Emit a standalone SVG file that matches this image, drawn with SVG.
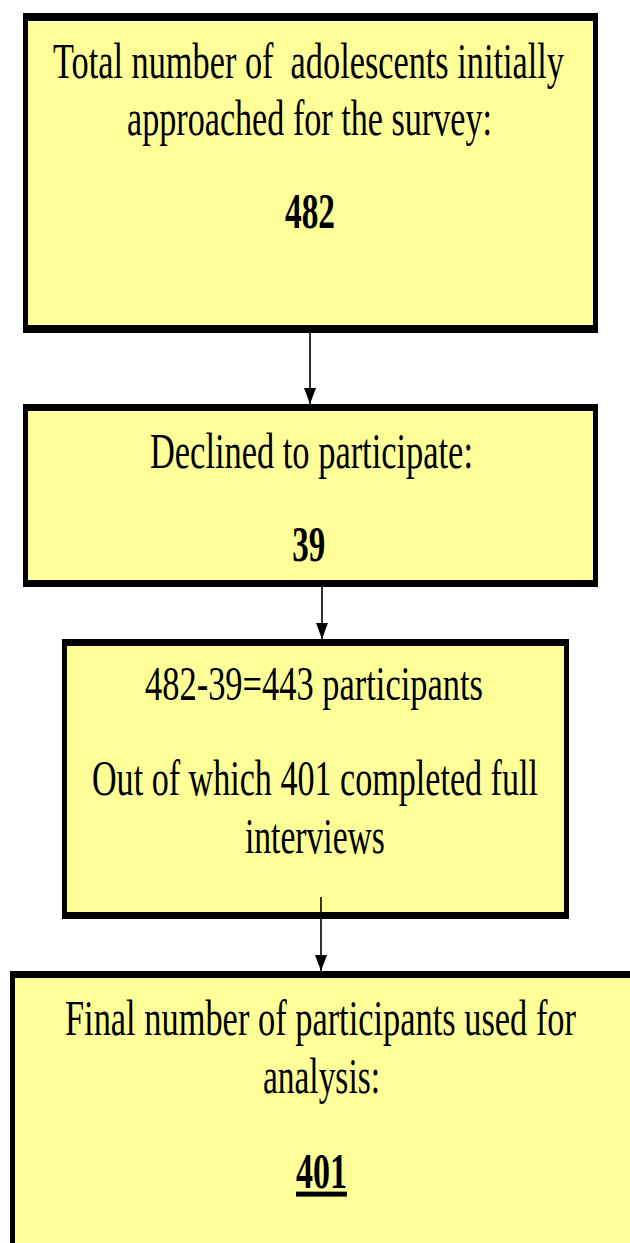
<svg xmlns="http://www.w3.org/2000/svg" width="630" height="1243" viewBox="0 0 630 1243">
<defs>
<style>
.frame{fill:#000}
.fill{fill:#FFFF99}
.t{font-family:"Liberation Serif","Times New Roman",serif;font-size:50px;fill:#000}
.s{font-size:48px}
.b{font-weight:bold}
.conn{stroke:#000;stroke-width:1.6;fill:none}
</style>
<marker id="ah" viewBox="0 0 16 12" refX="16" refY="6" markerWidth="16" markerHeight="12" markerUnits="userSpaceOnUse" orient="auto">
<path d="M0,0 L16,6 L0,12 z" fill="#000"/>
</marker>
</defs>
<rect width="630" height="1243" fill="#fff"/>
<g id="node-total">
<rect class="frame" x="23" y="13" width="575" height="320"/>
<rect class="fill" x="28" y="21" width="565" height="304"/>
<g transform="scale(0.6,1)">
<text class="t" x="88.3" y="78" textLength="851.7" lengthAdjust="spacingAndGlyphs" xml:space="preserve">Total number of  adolescents initially</text>
<text class="t" x="211.7" y="135" textLength="608.3" lengthAdjust="spacingAndGlyphs">approached for the survey:</text>
<text class="t b" x="475" y="228" textLength="83.3" lengthAdjust="spacingAndGlyphs">482</text>
</g>
</g>
<g id="node-declined">
<rect class="frame" x="23" y="404" width="575" height="183"/>
<rect class="fill" x="28" y="411" width="565" height="169"/>
<g transform="scale(0.6,1)">
<text class="t" x="250" y="468" textLength="538.3" lengthAdjust="spacingAndGlyphs">Declined to participate:</text>
<text class="t b" x="487" y="561" textLength="55" lengthAdjust="spacingAndGlyphs">39</text>
</g>
</g>
<g id="node-participants">
<rect class="frame" x="62" y="639" width="507" height="280"/>
<rect class="fill" x="67" y="646" width="497" height="266"/>
<g transform="scale(0.6,1)">
<text class="t s" x="241.7" y="700" textLength="563.3" lengthAdjust="spacingAndGlyphs">482-39=443 participants</text>
<text class="t" x="153.3" y="795" textLength="743.3" lengthAdjust="spacingAndGlyphs">Out of which 401 completed full</text>
<text class="t" x="408.3" y="853" textLength="233.3" lengthAdjust="spacingAndGlyphs">interviews</text>
</g>
</g>
<g id="node-final">
<rect class="frame" x="10" y="971" width="640" height="290"/>
<rect class="fill" x="15" y="978" width="630" height="280"/>
<g transform="scale(0.6,1)">
<text class="t" x="108.3" y="1035" textLength="851.7" lengthAdjust="spacingAndGlyphs">Final number of participants used for</text>
<text class="t" x="438.3" y="1093" textLength="195" lengthAdjust="spacingAndGlyphs">analysis:</text>
<text class="t b" x="493.3" y="1188" textLength="85" lengthAdjust="spacingAndGlyphs" text-decoration="underline">401</text>
</g>
</g>
<g id="connectors">
<line class="conn" x1="310" y1="333" x2="310" y2="404" marker-end="url(#ah)"/>
<line class="conn" x1="322" y1="587" x2="322" y2="639" marker-end="url(#ah)"/>
<line class="conn" x1="321" y1="897" x2="321" y2="971" marker-end="url(#ah)"/>
</g>
</svg>
